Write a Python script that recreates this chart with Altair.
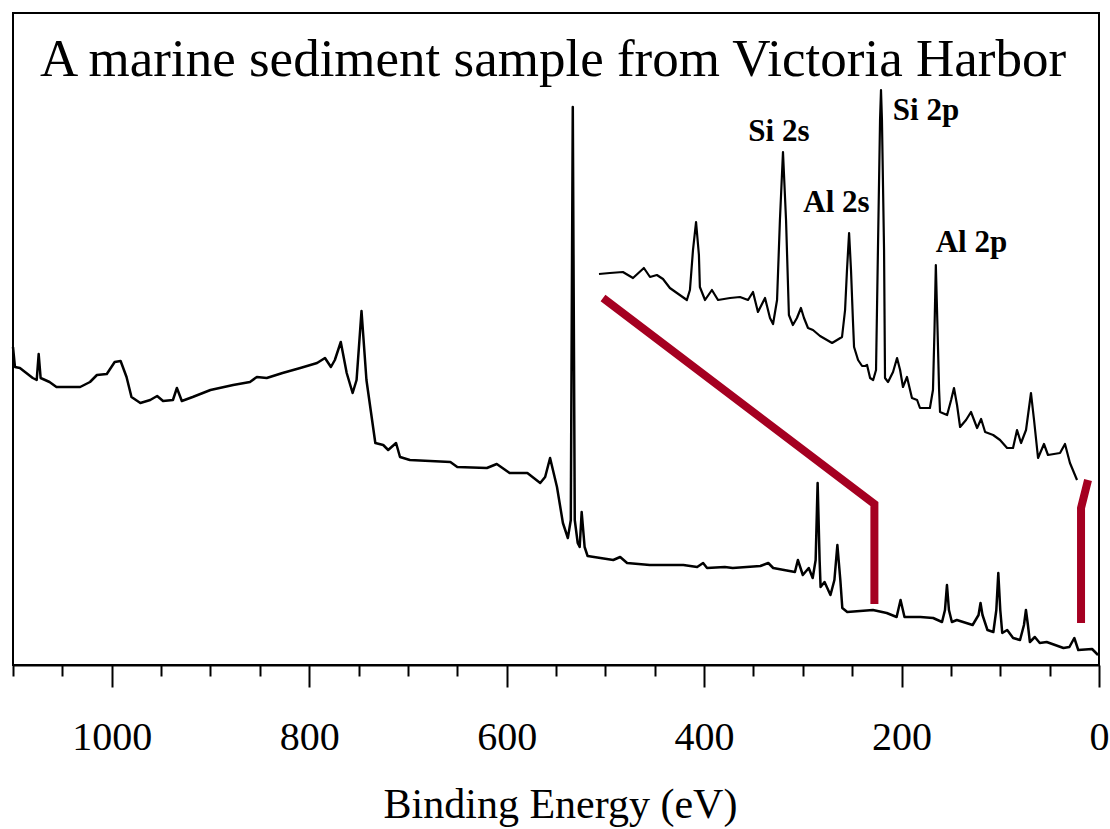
import altair as alt
import pandas as pd

# ---- main survey spectrum (binding energy eV, intensity in arbitrary units) ----
MAIN_EV = [1100, 1098, 1093, 1080, 1076, 1074, 1072, 1063, 1056, 1045, 1032, 1022, 1015, 1005, 997, 991,
           985, 980, 971, 961, 954, 948, 938, 934, 929, 918, 900, 877, 860, 853, 843, 827, 809, 792, 784,
           778, 774, 768, 762, 756, 752, 747, 742, 733, 725, 720, 712, 708, 698, 657, 650, 620, 610, 597,
           579, 566, 561, 556, 549, 543, 538, 535, 533, 531, 528, 526, 524, 521, 518, 505, 492, 485, 478,
           455, 421, 407, 401, 397, 379, 371, 343, 335, 330, 308, 305, 300, 294, 290, 287, 285, 283, 282,
           278, 272, 268, 265, 262, 260, 255, 229, 215, 205, 201, 197, 181, 168, 159, 156, 154, 152, 149,
           144, 128, 122, 120, 118, 113, 107, 104, 102, 100, 98, 93, 87, 80, 76, 74, 72, 70, 65, 60, 53,
           36, 30, 25, 21, 7, 1]
MAIN_INT = [318, 298, 297, 287, 285, 311, 287, 283, 278, 278, 278, 283, 290, 291, 303, 304,
            288, 268, 262, 265, 269, 264, 265, 277, 264, 268, 275, 280, 283, 288, 287, 292, 297, 302, 307,
            298, 305, 323, 292, 272, 285, 354, 285, 222, 220, 215, 222, 208, 205, 203, 198, 197, 201, 192,
            192, 182, 188, 207, 178, 142, 127, 145, 558, 145, 122, 118, 153, 118, 109, 107, 105, 108, 102,
            100, 100, 98, 102, 97, 98, 97, 99, 102, 97, 93, 105, 90, 97, 87, 105, 182, 105, 78,
            83, 70, 85, 120, 85, 57, 53, 55, 52, 48, 65, 48, 48, 47, 43, 55, 80, 55, 43,
            45, 40, 50, 62, 50, 35, 33, 55, 92, 55, 32, 35, 27, 25, 40, 55, 40, 23, 28, 22, 23,
            17, 18, 27, 15, 16, 10]

# ---- magnified inset (250-0 eV region) ----
INSET_EV = [250.3, 244.6, 237.8, 232.5, 226.8, 223.6, 220, 216.8, 213.2, 209.5, 204.3, 202.7, 201.1, 199.5,
            198, 197.5, 194.8, 191.2, 188, 181.7, 176.5, 172.3, 169.7, 167.1, 163.4, 160.8, 159.2, 157.1,
            155.6, 154, 152.4, 150.9, 148.8, 146.7, 144.6, 143, 140.9, 138.3, 134.6, 131, 128.3, 125.7,
            123.1, 121.5, 120.5, 119.4, 118.4, 117.4, 116.8, 114.7, 112.6, 111, 110, 108.4, 106.8, 105.3,
            104.3, 103.2, 102.7, 102.2, 101.1, 100.6, 99, 96.4, 94.3, 92.7, 91.2, 89.1, 86.5, 83.8, 82.3,
            77.1, 75.5, 74.7, 74, 73.1, 72.3, 71.8, 68.1, 66, 64.5, 62.9, 61.3, 58.2, 55.6, 52.4, 50.3,
            48.2, 44, 40.4, 36.7, 33.6, 31.5, 29.4, 26.8, 24.2, 22.6, 20.5, 17.4, 15.3, 9, 6.4, 3.8, 0.1]
INSET_INT = [391, 392, 393, 387, 397, 388, 390, 386, 377, 372, 365, 375, 415, 443,
             410, 378, 365, 375, 365, 367, 368, 365, 373, 353, 367, 347, 341, 365,
             445, 513, 445, 350, 340, 347, 357, 347, 337, 335, 329, 325, 322, 325,
             328, 355, 395, 432, 395, 345, 318, 305, 299, 299, 300, 287, 285, 295,
             415, 545, 575, 545, 415, 287, 283, 293, 307, 295, 278, 288, 267, 265, 257,
             257, 275, 335, 400, 335, 275, 253, 250, 265, 277, 260, 238, 245, 253, 237, 246,
             233, 230, 225, 217, 217, 235, 222, 235, 272, 245, 207, 221, 210, 212, 221, 202, 185]

# ---- red bracket marking the magnified region ----
BRACKET_GROUP = ["a", "a", "a", "b", "b", "b"]
BRACKET_EV = [502.4, 227.5, 227.5, 11.1, 18.2, 18.2]
BRACKET_INT = [367, 161, 61, 185, 157, 42]

# ---- peak labels ----
LABEL_TEXT = ["Si 2s", "Si 2p", "Al 2s", "Al 2p"]
LABEL_EV = [324.2, 175.2, 265.9, 129.2]
LABEL_INT = [524, 545, 453, 413]

TITLE_TEXT = ["A marine sediment sample from Victoria Harbor"]
TITLE_EV = [553]
TITLE_INT = [589]

FONT = "Liberation Serif"
W, H = 1086, 652
RED = "#A50021"

x_main = alt.Scale(domain=[0, 1100], reverse=True, nice=False, zero=False)
x_inset = alt.Scale(domain=[-11.4, 557], reverse=True, nice=False, zero=False)
y_sc = alt.Scale(domain=[0, 652], nice=False, zero=False)

main_df = pd.DataFrame({"ev": MAIN_EV, "counts": MAIN_INT})
inset_df = pd.DataFrame({"ev": INSET_EV, "counts": INSET_INT})
bracket_df = pd.DataFrame({"grp": BRACKET_GROUP, "ev": BRACKET_EV, "counts": BRACKET_INT,
                           "idx": list(range(len(BRACKET_EV)))})
label_df = pd.DataFrame({"t": LABEL_TEXT, "ev": LABEL_EV, "counts": LABEL_INT})
title_df = pd.DataFrame({"t": TITLE_TEXT, "ev": TITLE_EV, "counts": TITLE_INT})

x_axis = alt.Axis(
    values=list(range(0, 1101, 50)),
    format="d",
    labelExpr="datum.value % 200 === 0 ? datum.label : ''",
    tickSize={"condition": {"test": "datum.value % 200 === 0", "value": 22}, "value": 11},
    labelPadding=30,
    labelFlush=False,
    labelOverlap=False,
    labelBound=False,
    titleY=152,
    titleX=547,
    titleBaseline="alphabetic",
)

main = alt.Chart(main_df).mark_line(color="black", strokeWidth=2.5, strokeJoin="round").encode(
    x=alt.X("ev:Q", scale=x_main, axis=x_axis, title="Binding Energy (eV)"),
    y=alt.Y("counts:Q", scale=y_sc, axis=None),
)

inset = alt.Chart(inset_df).mark_line(color="black", strokeWidth=2.2, strokeJoin="round").encode(
    x=alt.X("ev:Q", scale=x_inset, axis=None),
    y=alt.Y("counts:Q", scale=y_sc, axis=None),
)

bracket = alt.Chart(bracket_df).mark_line(
    color=RED, strokeWidth=8, strokeCap="butt", strokeJoin="miter"
).encode(
    x=alt.X("ev:Q", scale=x_main, axis=None),
    y=alt.Y("counts:Q", scale=y_sc, axis=None),
    detail="grp:N",
    order="idx:Q",
)

labels = alt.Chart(label_df).mark_text(
    font=FONT, fontWeight="bold", fontSize=31, align="center", baseline="alphabetic", color="black"
).encode(
    x=alt.X("ev:Q", scale=x_main, axis=None),
    y=alt.Y("counts:Q", scale=y_sc, axis=None),
    text="t:N",
)

title = alt.Chart(title_df).mark_text(
    font=FONT, fontSize=53, align="center", baseline="alphabetic", color="black"
).encode(
    x=alt.X("ev:Q", scale=x_main, axis=None),
    y=alt.Y("counts:Q", scale=y_sc, axis=None),
    text="t:N",
)

chart = alt.layer(main, inset, bracket, labels, title).resolve_scale(x="independent").properties(
    width=W, height=H,
    padding={"left": 13, "top": 13, "right": 11, "bottom": 164},
    autosize=alt.AutoSizeParams(type="none"),
    background="white",
).configure_view(
    stroke="black", strokeWidth=2
).configure_axis(
    labelFont=FONT, labelFontSize=40, labelColor="black",
    titleFont=FONT, titleFontSize=42, titleFontWeight="normal", titleColor="black",
    domainColor="black", domainWidth=2, tickColor="black", tickWidth=2, grid=False,
)

chart.save("out.html", embed_options={"renderer": "svg", "actions": False})
